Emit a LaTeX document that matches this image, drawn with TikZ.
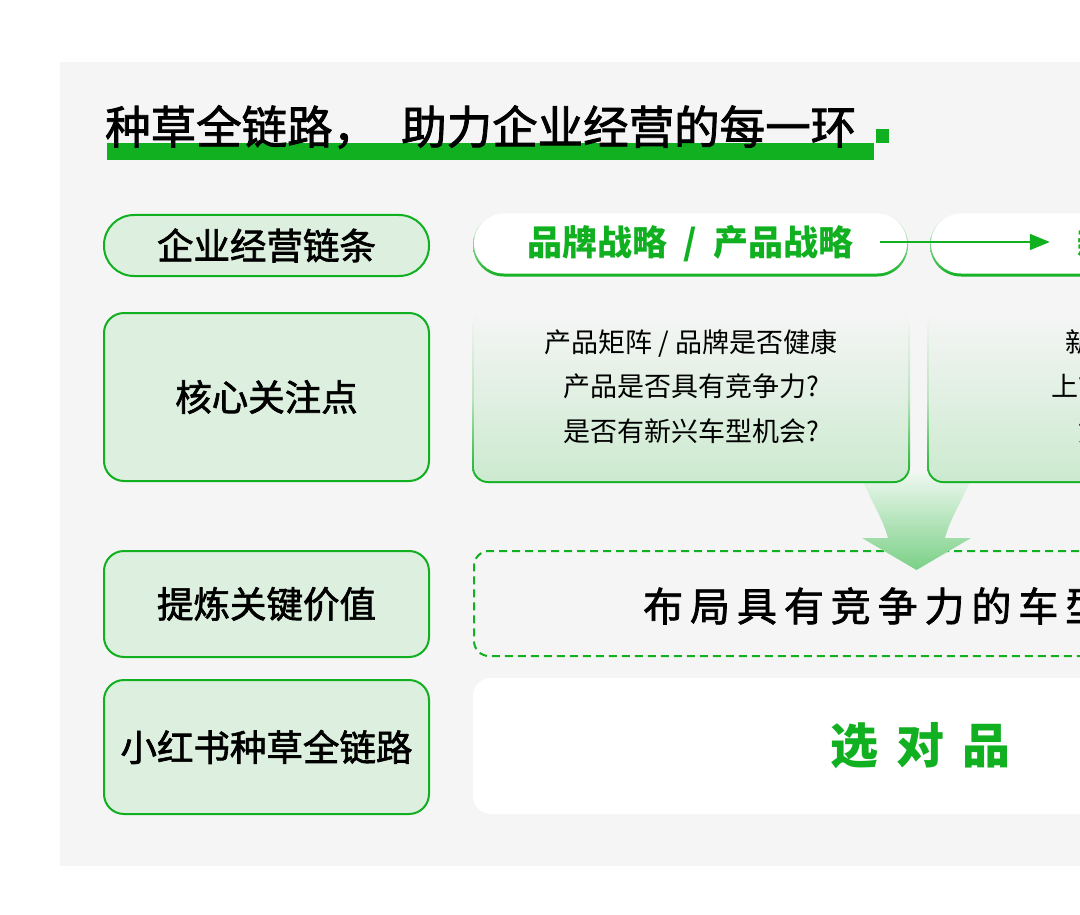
\documentclass[tikz,border=0pt]{standalone}
\usepackage{fontspec}
\setmainfont{Noto Sans CJK SC}
\newfontfamily\midfont[FakeBold=1.8]{Noto Sans CJK SC}
\usetikzlibrary{arrows.meta}
\definecolor{brand}{RGB}{16,176,32}
\definecolor{panel}{RGB}{245,245,245}
\definecolor{leaf}{RGB}{221,239,222}
\definecolor{mint}{RGB}{204,234,207}
\definecolor{flowtop}{RGB}{236,247,238}
\definecolor{flow}{RGB}{122,208,134}
\begin{document}
\begin{tikzpicture}[x=1pt,y=-1pt,
  rowbox/.style={draw=brand, line width=2pt, fill=leaf, rounded corners=20pt,
    minimum width=325pt, inner sep=0pt, font=\midfont\fontsize{36.5}{40}\selectfont},
  pillrim/.style={rounded corners=31pt, minimum width=435pt, minimum height=63pt,
    inner sep=0pt, top color=panel, bottom color=brand},
  pill/.style={fill=white, rounded corners=30pt, minimum width=433pt, minimum height=60pt,
    inner sep=0pt, text=brand, font=\bfseries\fontsize{35}{40}\selectfont},
  cardrim/.style={rounded corners=16pt, minimum width=438pt, minimum height=171pt,
    top color=panel, bottom color=brand, middle color=panel!75!brand},
  card/.style={rounded corners=14pt, minimum width=434pt, minimum height=169pt,
    top color=panel, bottom color=mint},
  note/.style={align=center, inner sep=0pt, font=\fontsize{27}{44.5}\selectfont},
  keybox/.style={draw=brand, line width=2pt, dash pattern=on 8pt off 5pt,
    rounded corners=15pt, minimum width=893pt, minimum height=105pt},
  pickbox/.style={fill=white, rounded corners=18pt, minimum width=894pt, minimum height=136pt,
    text=brand, font=\bfseries\fontsize{48}{50}\selectfont},
  flowline/.style={draw=brand, line width=1.8pt, -{Triangle[length=20pt,width=16pt]}}]
\useasboundingbox (0,0) rectangle (1080,915);
\clip (0,0) rectangle (1080,915);
\fill[panel] (60,62) rectangle (1080,866);
% title
\fill[brand] (107,143) rectangle (874,160);
\fill[brand] (876,129) rectangle (889,143);
\node[anchor=west, inner sep=0pt, font=\midfont\fontsize{45.5}{48}\selectfont] (title) at (105,127)
  {种草全链路，\hspace{23pt}助力企业经营的每一环};
% left column
\node[rowbox, rounded corners=30pt, minimum height=61pt] (chain) at (266.5,245.5) {企业经营链条};
\node[rowbox, minimum height=168pt] (focus) at (266.5,397) {核心关注点};
\node[rowbox, minimum height=106pt] (value) at (266.5,604) {提炼关键价值};
\node[rowbox, minimum height=134pt] (route) at (266.5,747) {小红书种草全链路};
% value rows
\node[keybox] (keybox) at (920.5,603.5) {};
\node[anchor=west, inner sep=0pt, font=\midfont\fontsize{40}{44}\selectfont] (keytext) at (643,606)
  {布\kern6.9pt局\kern6.9pt具\kern6.9pt有\kern6.9pt竞\kern6.9pt争\kern6.9pt力\kern6.9pt的\kern6.9pt车\kern6.9pt型};
\node[pickbox] (pick) at (920,746) {选\hspace{18pt}对\hspace{18pt}品};
% big arrow down
\shade[top color=flowtop, bottom color=flow]
  (860,474) .. controls (869,498) and (882,516) .. (888,538) -- (862,538) -- (916.5,570)
  -- (971,538) -- (945,538) .. controls (951,516) and (964,498) .. (973,474) -- cycle;
% cards
\node[cardrim] (rimA) at (691,397.5) {};
\node[card] (cardA) at (691,396.5) {};
\node[note] (askA) at (691,386.5) {产品矩阵 / 品牌是否健康\\产品是否具有竞争力?\\是否有新兴车型机会?};
\node[cardrim] (rimB) at (1146,397.5) {};
\node[card] (cardB) at (1146,396.5) {};
\node[note] (askB) at (1146,386.5) {新品如何定位\\上市后如何引爆\\如何做种草};
% top pills
\node[pillrim] (rimP) at (690.5,245) {};
\node[pill] (brandpill) at (690.5,243.5) {品牌战略\hspace{16pt}/\hspace{16pt}产品战略};
\node[pillrim] (rimQ) at (1147.5,245) {};
\node[pill] (newpill) at (1147.5,243.5) {新品上市};
\draw[flowline] ([xshift=-27pt,yshift=1.5pt]brandpill.east) -- ([xshift=119pt,yshift=1.5pt]newpill.west);
\end{tikzpicture}
\end{document}
